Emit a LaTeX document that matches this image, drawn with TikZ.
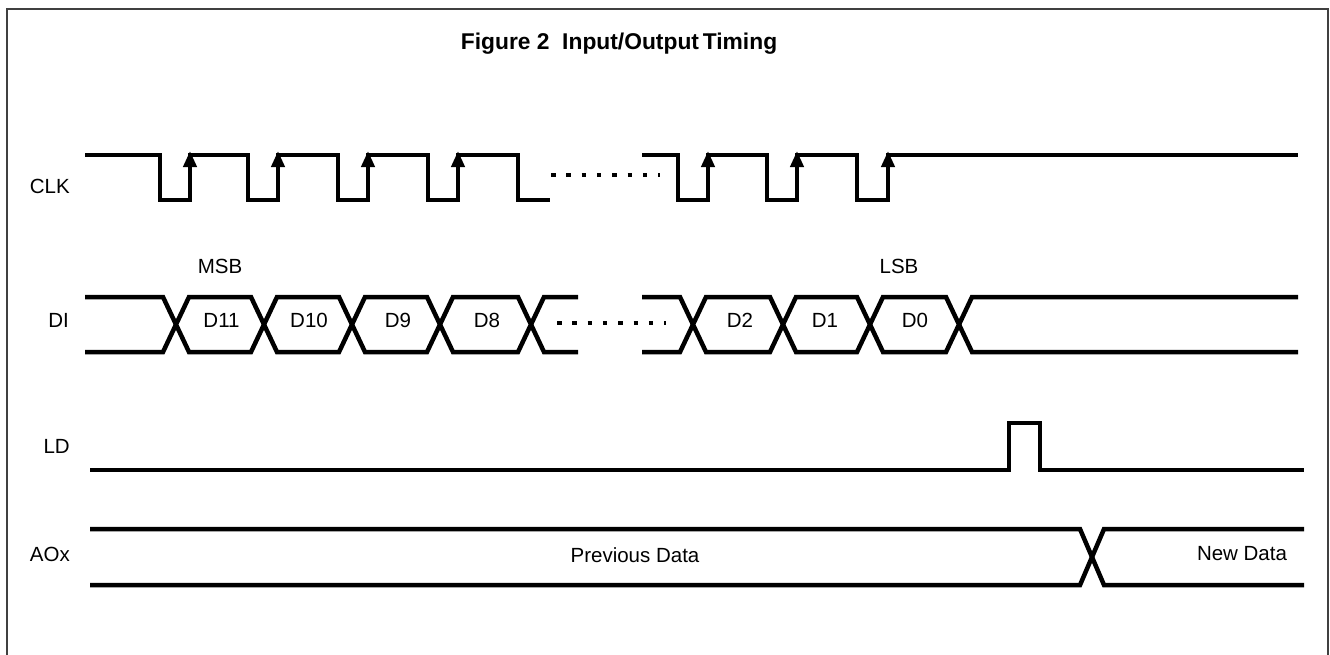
\documentclass[tikz,border=0pt]{standalone}
\usepackage{fontspec}
\setmainfont{Liberation Sans}
\usetikzlibrary{arrows.meta}
\tikzset{
  wave/.style={line width=4.5pt, line join=miter},
  edgearrow/.style={line width=4.5pt, -{Triangle[width=13pt,length=16pt]}},
  dotline/.style={line width=3.2pt, dash pattern=on 4.5pt off 10.8pt},
  frame/.style={line width=1.6pt, draw=black!75},
  lbl/.style={font=\fontsize{20.5}{24}\selectfont, inner sep=0pt},
  sig/.style={lbl, anchor=base east},
  ttl/.style={font=\fontsize{22.8}{26}\selectfont\bfseries, inner sep=0pt, anchor=base}
}
\begin{document}
\begin{tikzpicture}[x=1pt,y=-1pt]
\useasboundingbox (0,0) rectangle (1330,654);
% frame
\draw[frame] (7,670) -- (7,9) -- (1328,9) -- (1328,670);
% title
\node[ttl] (title) at (619,49) {Figure 2\ \ Input/Output\,Timing};
% signal names
\node[sig] (lclk) at (70,193) {CLK};
\node[sig] (ldi)  at (69,327) {DI};
\node[sig] (lld)  at (70,453) {LD};
\node[sig] (laox) at (70,561) {AOx};
% CLK
\draw[wave] (85,155) -- (160,155) -- (160,200) -- (190,200) -- (190,155)
  -- (248,155) -- (248,200) -- (278,200) -- (278,155)
  -- (338,155) -- (338,200) -- (368,200) -- (368,155)
  -- (428,155) -- (428,200) -- (458,200) -- (458,155)
  -- (518,155) -- (518,200) -- (550,200);
\draw[wave] (642,155) -- (678,155) -- (678,200) -- (708,200) -- (708,155)
  -- (767,155) -- (767,200) -- (797,200) -- (797,155)
  -- (857,155) -- (857,200) -- (888,200) -- (888,155) -- (1298,155);
\foreach \x in {190,278,368,458,708,797,888}
  \draw[edgearrow] (\x,185) -- (\x,151);
\coordinate (cdA) at (551,175);
\coordinate (cdB) at (660,175);
\draw[dotline] (cdA) -- (cdB);
% DI
\draw[wave] (85,297) -- (163,297) -- (176,324.5);
\draw[wave] (85,352) -- (163,352) -- (176,324.5);
\foreach \a/\b in {176/264,264/352,352/440,440/531,693/783,783/870,870/959}
  \draw[wave] (\a,324.5) -- (\a+13,297) -- (\b-13,297) -- (\b,324.5)
    -- (\b-13,352) -- (\a+13,352) -- cycle;
\draw[wave] (531,324.5) -- (544,297) -- (578,297);
\draw[wave] (531,324.5) -- (544,352) -- (578,352);
\draw[wave] (642,297) -- (680,297) -- (693,324.5);
\draw[wave] (642,352) -- (680,352) -- (693,324.5);
\draw[wave] (959,324.5) -- (972,297) -- (1298,297);
\draw[wave] (959,324.5) -- (972,352) -- (1298,352);
\coordinate (ddA) at (557,323);
\coordinate (ddB) at (666,323);
\draw[dotline] (ddA) -- (ddB);
\node[lbl, anchor=base] (d11) at (221.5,327) {D11};
\node[lbl, anchor=base] (d10) at (309,327) {D10};
\node[lbl, anchor=base] (d9)  at (398,327) {D9};
\node[lbl, anchor=base] (d8)  at (487,327) {D8};
\node[lbl, anchor=base] (d2)  at (740,327) {D2};
\node[lbl, anchor=base] (d1)  at (825,327) {D1};
\node[lbl, anchor=base] (d0)  at (915,327) {D0};
\node[lbl, anchor=base] (msb) at (220,273) {MSB};
\node[lbl, anchor=base] (lsb) at (899,273) {LSB};
% LD
\draw[wave] (90,470) -- (1009,470) -- (1009,423) -- (1040,423) -- (1040,470) -- (1304,470);
% AOx
\draw[wave] (90,529) -- (1080,529) -- (1104,585) -- (1304,585);
\draw[wave] (90,585) -- (1080,585) -- (1104,529) -- (1304,529);
\node[lbl, anchor=base] (prev) at (635,562) {Previous Data};
\node[lbl, anchor=base] (new)  at (1242,560) {New Data};
\end{tikzpicture}
\end{document}
